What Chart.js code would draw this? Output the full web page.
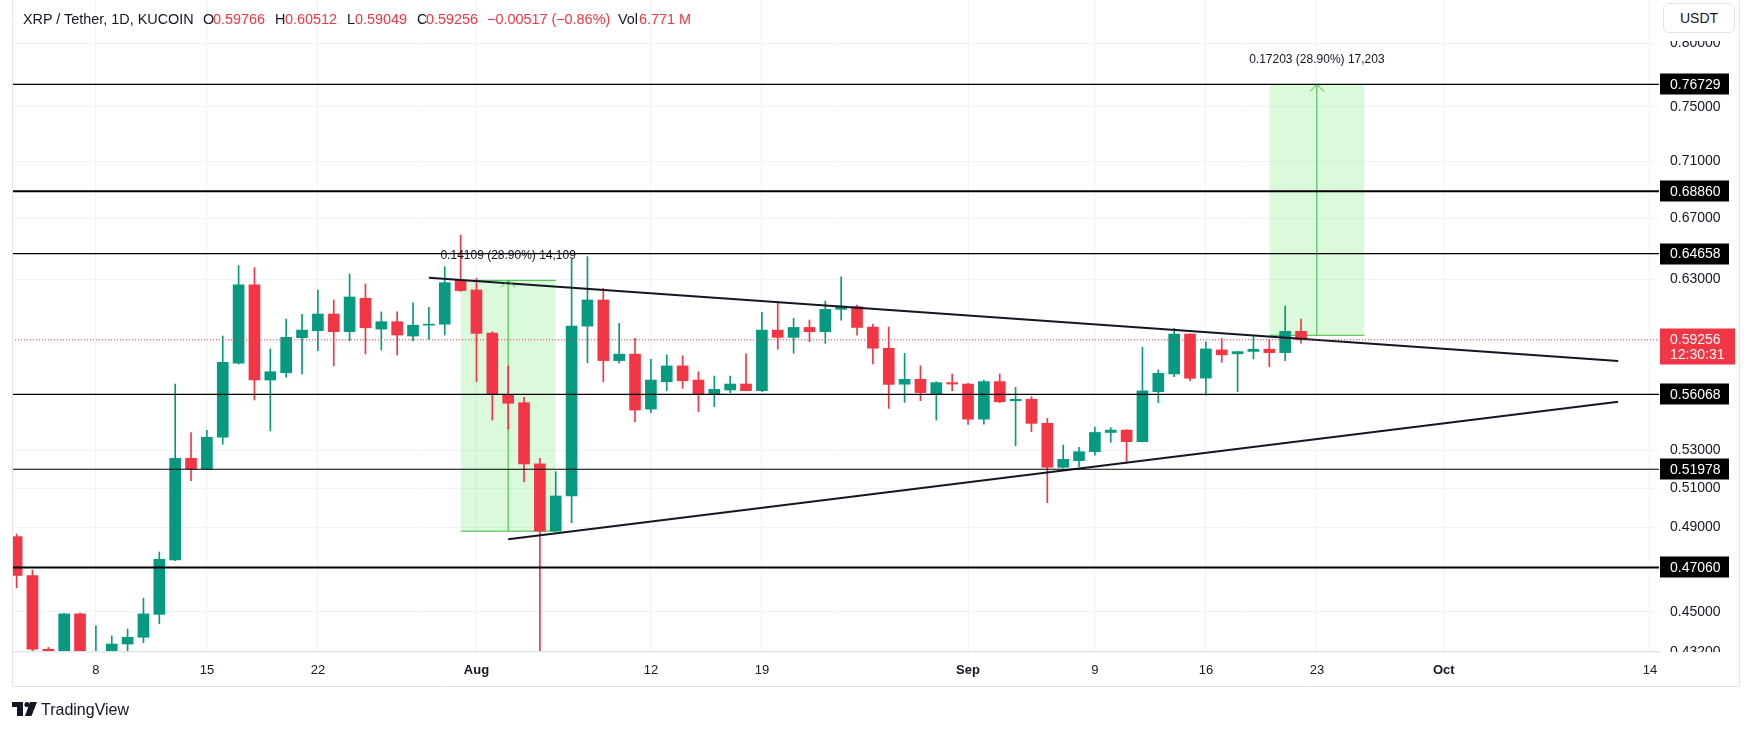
<!DOCTYPE html>
<html>
<head>
<meta charset="utf-8">
<title>XRP / Tether, 1D, KUCOIN</title>
<script src="https://cdn.jsdelivr.net/npm/chart.js@4.4.1/dist/chart.umd.min.js"></script>
<style>
  html, body { margin: 0; padding: 0; background: #fff; }
  #wrap { position: relative; width: 1754px; height: 730px; overflow: hidden;
          font-family: 'Liberation Sans', Arial, sans-serif; color: #131722; }
  #chart { position: absolute; left: 0; top: 0; }
  .lg { position: absolute; top: 11px; font-size: 14.4px; line-height: 17px; white-space: nowrap; }
  .red { color: #f23645; }
  #usdt { position: absolute; left: 1663px; top: 3px; width: 72px; height: 30px; box-sizing: border-box;
          border: 1px solid #e0e3eb; border-radius: 6px; background: #fff;
          font-size: 14px; line-height: 28px; text-align: center; }
  #brand { position: absolute; left: 41px; top: 700px; font-size: 16px; line-height: 20px; }
</style>
</head>
<body>
<div id="wrap">
  <canvas id="chart" width="1754" height="730"></canvas>
  <span class="lg" style="left:23px">XRP / Tether, 1D, KUCOIN</span>
  <span class="lg" style="left:203px">O</span><span class="lg red" style="left:213px">0.59766</span>
  <span class="lg" style="left:275px">H</span><span class="lg red" style="left:285px">0.60512</span>
  <span class="lg" style="left:347px">L</span><span class="lg red" style="left:355px">0.59049</span>
  <span class="lg" style="left:417px">C</span><span class="lg red" style="left:426px">0.59256</span>
  <span class="lg red" style="left:487px">−0.00517 (−0.86%)</span>
  <span class="lg" style="left:618px">Vol</span><span class="lg red" style="left:639px">6.771 M</span>
  <div id="usdt">USDT</div>
  <div id="brand">TradingView</div>
</div>
<script>
// daily candles, KUCOIN XRP/USDT
const dates = [
  '07-03','07-04','07-05','07-06','07-07','07-08','07-09','07-10','07-11','07-12',
  '07-13','07-14','07-15','07-16','07-17','07-18','07-19','07-20','07-21','07-22',
  '07-23','07-24','07-25','07-26','07-27','07-28','07-29','07-30','07-31',
  '08-01','08-02','08-03','08-04','08-05','08-06','08-07','08-08','08-09','08-10',
  '08-11','08-12','08-13','08-14','08-15','08-16','08-17','08-18','08-19','08-20',
  '08-21','08-22','08-23','08-24','08-25','08-26','08-27','08-28','08-29','08-30','08-31',
  '09-01','09-02','09-03','09-04','09-05','09-06','09-07','09-08','09-09','09-10',
  '09-11','09-12','09-13','09-14','09-15','09-16','09-17','09-18','09-19','09-20',
  '09-21','09-22'
];
const opens = [
  0.4855, 0.4668, 0.4332, 0.4230, 0.4490, 0.4230, 0.4300, 0.4355, 0.4385, 0.4488,
  0.4742, 0.5256, 0.5199, 0.5369, 0.5787, 0.6264, 0.5689, 0.5731, 0.5938, 0.5980,
  0.6082, 0.5974, 0.6180, 0.5990, 0.6035, 0.5948, 0.6014, 0.6020, 0.62931,
  0.6232, 0.5966, 0.5607, 0.5560, 0.5226, 0.48822, 0.5059, 0.6008, 0.6169, 0.5802,
  0.5840, 0.5524, 0.5679, 0.5771, 0.5689, 0.5608, 0.5632, 0.5666, 0.5628, 0.5984,
  0.5940, 0.6000, 0.5974, 0.6111, 0.6127, 0.6002, 0.5875, 0.5665, 0.5693, 0.5609, 0.5674,
  0.5666, 0.5468, 0.5680, 0.5571, 0.5579, 0.5445, 0.5208, 0.5243, 0.5291, 0.5395,
  0.5408, 0.5345, 0.5622, 0.5724, 0.5960, 0.5700, 0.5865, 0.5842, 0.5856, 0.5869,
  0.5849, 0.59766
];
const highs = [
  0.4868, 0.4694, 0.4340, 0.4493, 0.4495, 0.4436, 0.4391, 0.4422, 0.4562, 0.4780,
  0.5666, 0.5395, 0.5407, 0.5948, 0.6387, 0.6374, 0.5871, 0.6051, 0.6080, 0.6232,
  0.6169, 0.6333, 0.6270, 0.6095, 0.6095, 0.6152, 0.6124, 0.6380, 0.6588,
  0.6306, 0.5974, 0.5771, 0.5590, 0.5256, 0.5185, 0.6429, 0.6446, 0.6243, 0.6025,
  0.5934, 0.5810, 0.5836, 0.5830, 0.5737, 0.5712, 0.5712, 0.5842, 0.6093, 0.6158,
  0.6055, 0.6045, 0.6163, 0.6316, 0.6137, 0.6020, 0.6002, 0.5845, 0.5771, 0.5679, 0.5724,
  0.5670, 0.5689, 0.5724, 0.5647, 0.5594, 0.5472, 0.5327, 0.5314, 0.5425, 0.5422,
  0.5410, 0.5881, 0.5747, 0.5994, 0.5962, 0.5914, 0.5934, 0.5857, 0.5944, 0.5928,
  0.6131, 0.60512
];
const lows = [
  0.4610, 0.4290, 0.3830, 0.4200, 0.4210, 0.4120, 0.4260, 0.4315, 0.4361, 0.4445,
  0.4739, 0.5138, 0.5195, 0.5331, 0.5782, 0.5575, 0.5403, 0.5705, 0.5724, 0.5861,
  0.5771, 0.5920, 0.5841, 0.5865, 0.5836, 0.5918, 0.5928, 0.5954, 0.6222,
  0.5679, 0.5463, 0.5412, 0.5133, 0.4300, 0.4880, 0.4924, 0.5789, 0.5679, 0.5787,
  0.5454, 0.5504, 0.5628, 0.5641, 0.5509, 0.5538, 0.5617, 0.5628, 0.5622, 0.5869,
  0.5845, 0.5914, 0.5904, 0.6045, 0.5954, 0.5782, 0.5528, 0.5562, 0.5571, 0.5463, 0.5628,
  0.5439, 0.5440, 0.5560, 0.5323, 0.5399, 0.5025, 0.5205, 0.5212, 0.5273, 0.5341,
  0.5230, 0.5343, 0.5560, 0.5709, 0.5685, 0.5603, 0.5792, 0.5622, 0.5812, 0.5767,
  0.5802, 0.59049
];
const closes = [
  0.4668, 0.4332, 0.4230, 0.4490, 0.4230, 0.4300, 0.4355, 0.4385, 0.4490, 0.4745,
  0.5256, 0.5199, 0.5369, 0.5792, 0.6264, 0.5689, 0.5737, 0.5940, 0.5984, 0.6082,
  0.5974, 0.6188, 0.5998, 0.6035, 0.5954, 0.6014, 0.6020, 0.6278, 0.6228,
  0.5964, 0.5607, 0.5557, 0.5226, 0.48822, 0.5059, 0.6008, 0.6169, 0.5802, 0.5840,
  0.5519, 0.5689, 0.5771, 0.5685, 0.5607, 0.5636, 0.5666, 0.5628, 0.5984, 0.5940,
  0.6000, 0.5974, 0.6111, 0.6131, 0.6000, 0.5875, 0.5664, 0.5693, 0.5617, 0.5674, 0.5666,
  0.5468, 0.5680, 0.5565, 0.5579, 0.5445, 0.5208, 0.5250, 0.5291, 0.5395, 0.5408,
  0.5345, 0.5627, 0.5728, 0.5960, 0.5699, 0.5871, 0.5836, 0.5855, 0.5869, 0.5849,
  0.59766, 0.59256
];

const xTickDates = ['07-08','07-15','07-22','08-01','08-12','08-19','09-01','09-09','09-16','09-23','10-01','10-14'];
const xTickLabels = ['8','15','22','Aug','12','19','Sep','9','16','23','Oct','14'];
const yTicks = [0.432, 0.45, 0.49, 0.51, 0.53, 0.63, 0.67, 0.71, 0.75, 0.80];

// horizontal levels drawn on the chart
const levels = [0.76729, 0.68860, 0.64658, 0.56068, 0.51978, 0.47060];
const lastPrice = 0.59256;
const countdown = '12:30:31';

// triangle trendlines
const trendFrom = ['07-29', '08-03'];
const trendFromPrice = [0.6310, 0.4842];
const trendTo = ['10-12', '10-12'];
const trendToPrice = [0.5800, 0.5565];

// price range measurements
const rangeFrom = ['07-31', '09-20'];
const rangeTo = ['08-06', '09-26'];
const rangeArrow = ['08-03', '09-23'];
const rangeLow = [0.48822, 0.59526];
const rangeHigh = [0.62931, 0.76729];
const rangeText = ['0.14109 (28.90%) 14,109', '0.17203 (28.90%) 17,203'];

const UP = '#089981', DOWN = '#f23645', RANGE = '#3cb93c';
const FONT = "'Liberation Sans', Arial, sans-serif";
const X_MIN = 1.71, X_MAX = 105.575;   // days since Jul 1
const Y_MIN = 0.43244, Y_MAX = 0.83577;

const day = s => (Date.UTC(2024, +s.slice(0, 2) - 1, +s.slice(3)) - Date.UTC(2024, 6, 1)) / 864e5;
const xs = dates.map(day);
const colors = opens.map((o, i) => closes[i] >= o ? UP : DOWN);
const xTickValues = xTickDates.map(day);

const line = (pts, color, width, order, extra) => Object.assign({
    type: 'line',
    data: pts,
    borderColor: color,
    borderWidth: width,
    pointRadius: 0,
    fill: false,
    order: order
}, extra || {});

const datasets = [];

rangeFrom.forEach((f, i) => {
    const a = day(f), b = day(rangeTo[i]), m = day(rangeArrow[i]);
    datasets.push(line([{x: a, y: rangeHigh[i]}, {x: b, y: rangeHigh[i]}], 'rgba(0,0,0,0)', 0, 6,
        {fill: {value: rangeLow[i]}, backgroundColor: 'rgba(0, 215, 0, 0.14)'}));
    datasets.push(line([{x: a, y: rangeHigh[i]}, {x: b, y: rangeHigh[i]}], RANGE, 1, 5));
    datasets.push(line([{x: a, y: rangeLow[i]}, {x: b, y: rangeLow[i]}], RANGE, 1, 5));
    datasets.push(line([{x: m, y: rangeLow[i]}, {x: m, y: rangeHigh[i]}], RANGE, 1, 5));
});

datasets.push({
    type: 'bar',
    data: xs.map((x, i) => ({x: x, y: [lows[i], highs[i]]})),
    backgroundColor: colors,
    barThickness: 1,
    grouped: false,
    order: 3
});
datasets.push({
    type: 'bar',
    data: xs.map((x, i) => ({x: x, y: [opens[i], closes[i]]})),
    backgroundColor: colors,
    barThickness: 11,
    minBarLength: 1,
    grouped: false,
    order: 2
});

levels.forEach((v, i) => {
    const w = (v === 0.68860 || v === 0.47060) ? 2 : 1.2;
    datasets.push(line([{x: X_MIN, y: v}, {x: X_MAX, y: v}], '#000', w, 1));
});
trendFrom.forEach((f, i) => {
    datasets.push(line([{x: day(f), y: trendFromPrice[i]}, {x: day(trendTo[i]), y: trendToPrice[i]}], '#131722', 2, 1));
});
datasets.push(line([{x: X_MIN, y: lastPrice}, {x: X_MAX, y: lastPrice}], DOWN, 1, 0, {borderDash: [1, 2]}));

const noPad = (scale) => {
    scale.paddingTop = 0; scale.paddingBottom = 0;
    scale.paddingLeft = 0; scale.paddingRight = 0;
};

const overlay = {
    id: 'overlay',
    afterDraw(chart) {
        const {ctx, chartArea: a, scales: {x, y}} = chart;
        ctx.save();

        // price axis edges are clipped like in the source
        ctx.fillStyle = '#fff';
        ctx.fillRect(a.right + 1, 0, 80, 41);
        ctx.fillRect(a.right + 1, a.bottom + 1, 80, 35);

        // arrowheads and measurement texts
        ctx.strokeStyle = RANGE;
        ctx.lineWidth = 1;
        ctx.font = '12px ' + FONT;
        ctx.textAlign = 'center';
        ctx.textBaseline = 'middle';
        rangeArrow.forEach((d, i) => {
            const px = x.getPixelForValue(day(d));
            const py = y.getPixelForValue(rangeHigh[i]);
            ctx.beginPath();
            ctx.moveTo(px - 7, py + 7);
            ctx.lineTo(px, py);
            ctx.lineTo(px + 7, py + 7);
            ctx.stroke();
            ctx.fillStyle = '#131722';
            ctx.fillText(rangeText[i], px, py - 25);
        });

        // level labels on the price axis
        ctx.font = '14px ' + FONT;
        ctx.textAlign = 'left';
        levels.forEach(v => {
            const py = y.getPixelForValue(v);
            ctx.fillStyle = '#000';
            ctx.fillRect(a.right + 1, Math.round(py) - 10.5, 69, 21);
            ctx.fillStyle = '#fff';
            ctx.fillText(v.toFixed(5), a.right + 11, py + 0.5);
        });

        // last price label with countdown
        const lp = y.getPixelForValue(lastPrice);
        ctx.fillStyle = DOWN;
        ctx.fillRect(a.right + 1, Math.round(lp) - 11.5, 75, 36);
        ctx.fillStyle = '#fff';
        ctx.fillText(lastPrice.toFixed(5), a.right + 11, lp + 0.5);
        ctx.fillText(countdown, a.right + 11, lp + 15);

        // widget frame
        ctx.strokeStyle = '#e0e3eb';
        ctx.beginPath();
        ctx.moveTo(12.5, 0); ctx.lineTo(12.5, 686.5);
        ctx.lineTo(1739.5, 686.5); ctx.lineTo(1739.5, 0);
        ctx.stroke();

        // TradingView logo mark
        ctx.fillStyle = '#131722';
        ctx.fillRect(12, 702, 11, 5);
        ctx.fillRect(17, 702, 6, 14);
        ctx.beginPath();
        ctx.arc(27, 704.5, 2.6, 0, Math.PI * 2);
        ctx.fill();
        ctx.beginPath();
        ctx.moveTo(30, 702); ctx.lineTo(37, 702); ctx.lineTo(31.5, 716); ctx.lineTo(25, 716);
        ctx.closePath();
        ctx.fill();
        ctx.restore();
    }
};

Chart.defaults.font.family = FONT;
Chart.defaults.color = '#131722';

new Chart(document.getElementById('chart').getContext('2d'), {
    type: 'bar',
    data: {datasets: datasets},
    options: {
        responsive: false,
        animation: false,
        layout: {padding: {left: 12, right: 14, top: 0, bottom: 43}},
        scales: {
            x: {
                type: 'linear',
                min: X_MIN,
                max: X_MAX,
                offset: false,
                grid: {color: '#f0f3fa', drawTicks: false, offset: false},
                border: {display: true, color: '#e0e3eb'},
                afterBuildTicks: (scale) => { scale.ticks = xTickValues.map(v => ({value: v})); },
                afterFit: (scale) => { scale.height = 36; noPad(scale); },
                ticks: {
                    autoSkip: false,
                    maxRotation: 0,
                    padding: 12,
                    color: '#131722',
                    font: (c) => ({
                        size: 13,
                        weight: c.tick && ['Aug', 'Sep', 'Oct'].includes(xTickLabels[xTickValues.indexOf(c.tick.value)]) ? 'bold' : 'normal'
                    }),
                    callback: (v) => xTickLabels[xTickValues.indexOf(v)]
                }
            },
            y: {
                type: 'logarithmic',
                position: 'right',
                min: Y_MIN,
                max: Y_MAX,
                grid: {color: '#f0f3fa', drawTicks: false},
                border: {display: false},
                afterBuildTicks: (scale) => { scale.ticks = yTicks.map(v => ({value: v})); },
                afterFit: (scale) => { scale.width = 81; noPad(scale); },
                ticks: {
                    autoSkip: false,
                    padding: 11,
                    color: '#131722',
                    font: {size: 14},
                    callback: (v) => Number(v).toFixed(5)
                }
            }
        },
        plugins: {
            legend: {display: false},
            tooltip: {enabled: false}
        }
    },
    plugins: [overlay]
});
</script>
</body>
</html>
